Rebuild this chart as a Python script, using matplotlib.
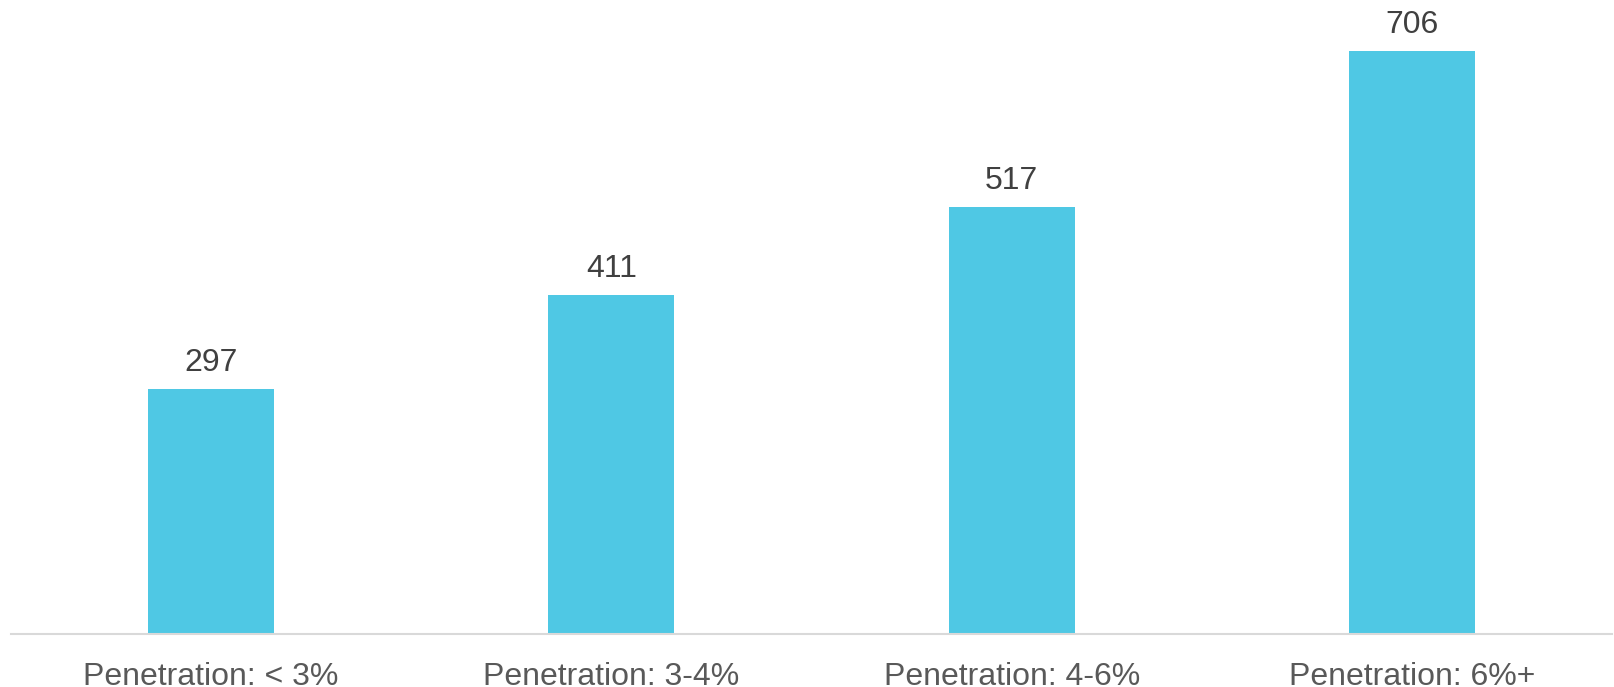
import matplotlib
matplotlib.use("Agg")
import matplotlib.pyplot as plt
import numpy as np

categories = ["Penetration: < 3%", "Penetration: 3-4%", "Penetration: 4-6%", "Penetration: 6%+"]
values = [297, 411, 517, 706]

plt.rcParams['font.family'] = ['Liberation Sans', 'DejaVu Sans']

W, H = 1614, 687
fig = plt.figure(figsize=(W / 100, H / 100), dpi=100)
ax = fig.add_axes([11 / W, (H - 634) / H, 1601 / W, 634 / H])

x = np.arange(len(categories))
bars = ax.bar(x, values, width=0.315, color="#4FC8E4")
ax.bar_label(bars, labels=[str(v) for v in values], padding=8,
             fontsize=23, color="#404040")

ax.set_xlim(-0.5, len(categories) - 0.5)
ax.set_ylim(0, 768)
ax.set_xticks(x)
ax.set_xticklabels(categories, fontsize=23, color="#595959")
ax.tick_params(axis="x", length=0, pad=20)
ax.set_yticks([])
for s in ["top", "right", "left"]:
    ax.spines[s].set_visible(False)
ax.spines["bottom"].set_color("#D9D9D9")
ax.spines["bottom"].set_linewidth(1.5)

fig.savefig("out.png", dpi=100)
